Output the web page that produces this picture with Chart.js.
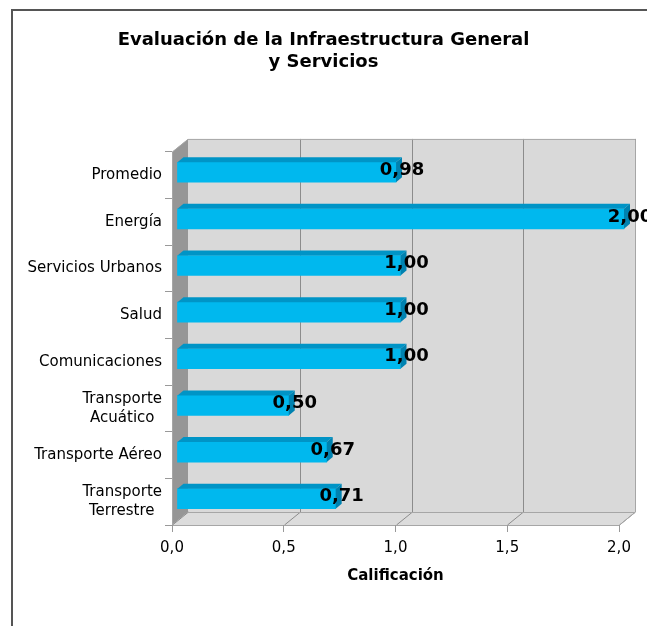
<!DOCTYPE html>
<html>
<head>
<meta charset="utf-8">
<script src="https://cdn.jsdelivr.net/npm/chart.js@4"></script>
<style>
  html, body { margin: 0; padding: 0; background: #fff; }
</style>
</head>
<body>
<canvas id="chart" width="647" height="626"></canvas>
<script>
const categories = [
  'Promedio',
  'Energía',
  'Servicios Urbanos',
  'Salud',
  'Comunicaciones',
  ['Transporte', 'Acuático\u2002'],
  'Transporte Aéreo',
  ['Transporte', 'Terrestre\u2002']
];
const values = [0.98, 2.00, 1.00, 1.00, 1.00, 0.50, 0.67, 0.71];
const valueLabels = ['0,98', '2,00', '1,00', '1,00', '1,00', '0,50', '0,67', '0,71'];
const xTickLabels = ['0,0', '0,5', '1,0', '1,5', '2,0'];

const FONT = '"DejaVu Sans", Verdana, sans-serif';
// depth of the 3D walls and of the bars
const DX = 16, DY = 13;
const BX = 5, BY = 4;
const BDX = 6, BDY = 5;

function poly(ctx, pts, fill) {
  ctx.beginPath();
  ctx.moveTo(pts[0][0], pts[0][1]);
  for (let i = 1; i < pts.length; i++) ctx.lineTo(pts[i][0], pts[i][1]);
  ctx.closePath();
  ctx.fillStyle = fill;
  ctx.fill();
}

function line(ctx, x1, y1, x2, y2) {
  ctx.beginPath();
  ctx.moveTo(x1, y1);
  ctx.lineTo(x2, y2);
  ctx.stroke();
}

const wallsPlugin = {
  id: 'walls',
  beforeDraw(chart) {
    const ctx = chart.ctx;
    const { left, right, top, bottom } = chart.chartArea;
    const xs = chart.scales.x;
    ctx.save();

    // outer frame (only top and left are visible)
    ctx.strokeStyle = '#555';
    ctx.lineWidth = 2;
    ctx.beginPath();
    ctx.moveTo(12, 626);
    ctx.lineTo(12, 10);
    ctx.lineTo(647, 10);
    ctx.stroke();

    // back wall, floor, left wall
    poly(ctx, [[left + DX, top - DY], [right + DX, top - DY], [right + DX, bottom - DY], [left + DX, bottom - DY]], '#d9d9d9');
    poly(ctx, [[left, bottom], [left + DX, bottom - DY], [right + DX, bottom - DY], [right, bottom]], '#dcdcdc');
    poly(ctx, [[left, top], [left + DX, top - DY], [left + DX, bottom - DY], [left, bottom]], '#969696');

    // grid on back wall and floor
    ctx.lineWidth = 1;
    ctx.strokeStyle = '#8c8c8c';
    xs.ticks.forEach(t => {
      const x = Math.round(xs.getPixelForValue(t.value)) + 0.5;
      if (t.value > 0) line(ctx, x + DX, top - DY, x + DX, bottom - DY);
      line(ctx, x, bottom, x + DX, bottom - DY);
    });

    // outlines
    ctx.strokeStyle = '#a6a6a6';
    ctx.beginPath();
    ctx.moveTo(left + 0.5, top);
    ctx.lineTo(left + DX, top - DY + 0.5);
    ctx.lineTo(right + DX + 0.5, top - DY + 0.5);
    ctx.lineTo(right + DX + 0.5, bottom - DY);
    ctx.lineTo(right, bottom + 0.5);
    ctx.lineTo(left + 0.5, bottom + 0.5);
    ctx.closePath();
    ctx.stroke();
    line(ctx, left + DX, bottom - DY + 0.5, right + DX, bottom - DY + 0.5);
    ctx.restore();
  },
  beforeDatasetsDraw(chart) {
    chart.ctx.save();
    chart.ctx.translate(BX, -BY + 1);
  },
  afterDatasetsDraw(chart) {
    const ctx = chart.ctx;
    const meta = chart.getDatasetMeta(0);
    meta.data.forEach(el => {
      const { x, y, base, height } = el.getProps(['x', 'y', 'base', 'height'], true);
      const t = y - height / 2, b = y + height / 2;
      poly(ctx, [[base, t], [x, t], [x + BDX, t - BDY], [base + BDX, t - BDY]], '#0094c6');
      poly(ctx, [[x, t], [x + BDX, t - BDY], [x + BDX, b - BDY], [x, b]], '#0082b0');
    });
    ctx.restore();

    // value labels
    ctx.save();
    ctx.font = 'bold 18px ' + FONT;
    ctx.fillStyle = '#000';
    ctx.textAlign = 'center';
    ctx.textBaseline = 'middle';
    meta.data.forEach((el, i) => {
      ctx.fillText(valueLabels[i], el.x + BX + BDX, el.y - BY - 1);
    });
    ctx.restore();
  }
};

new Chart(document.getElementById('chart'), {
  type: 'bar',
  data: {
    labels: categories,
    datasets: [{
      data: values,
      backgroundColor: '#00b8ee',
      borderWidth: 0,
      barThickness: 20,
      clip: false
    }]
  },
  options: {
    indexAxis: 'y',
    responsive: false,
    animation: false,
    layout: { padding: 0 },
    plugins: {
      legend: { display: false },
      tooltip: { enabled: false },
      title: {
        display: true,
        text: ['Evaluación de la Infraestructura General', 'y Servicios'],
        color: '#000',
        font: { family: FONT, size: 18, weight: 'bold', lineHeight: 1.22 },
        padding: { top: 29, bottom: 79 }
      }
    },
    scales: {
      x: {
        min: 0,
        max: 2,
        ticks: {
          stepSize: 0.5,
          callback: (v, i) => xTickLabels[i],
          color: '#000',
          font: { family: FONT, size: 15 },
          padding: 7,
          maxRotation: 0
        },
        grid: { drawOnChartArea: false, tickLength: 7, color: '#999' },
        border: { display: false },
        title: {
          display: true,
          text: 'Calificación',
          color: '#000',
          font: { family: FONT, size: 15, weight: 'bold' },
          padding: { top: 4, bottom: 41 }
        },
        afterFit(s) { s.height = 101; }
      },
      y: {
        ticks: {
          color: '#000',
          font: { family: FONT, size: 15, lineHeight: 1.25 },
          padding: 3
        },
        grid: { drawOnChartArea: false, tickLength: 7, color: '#999', offset: true },
        border: { display: false },
        afterFit(s) { s.width = 172; }
      },
      // empty strip on the right so the plot ends at the same place as the original
      yRight: {
        type: 'category',
        position: 'right',
        ticks: { display: false },
        grid: { display: false },
        border: { display: false },
        afterFit(s) { s.width = 28; }
      }
    }
  },
  plugins: [wallsPlugin]
});
</script>
</body>
</html>
